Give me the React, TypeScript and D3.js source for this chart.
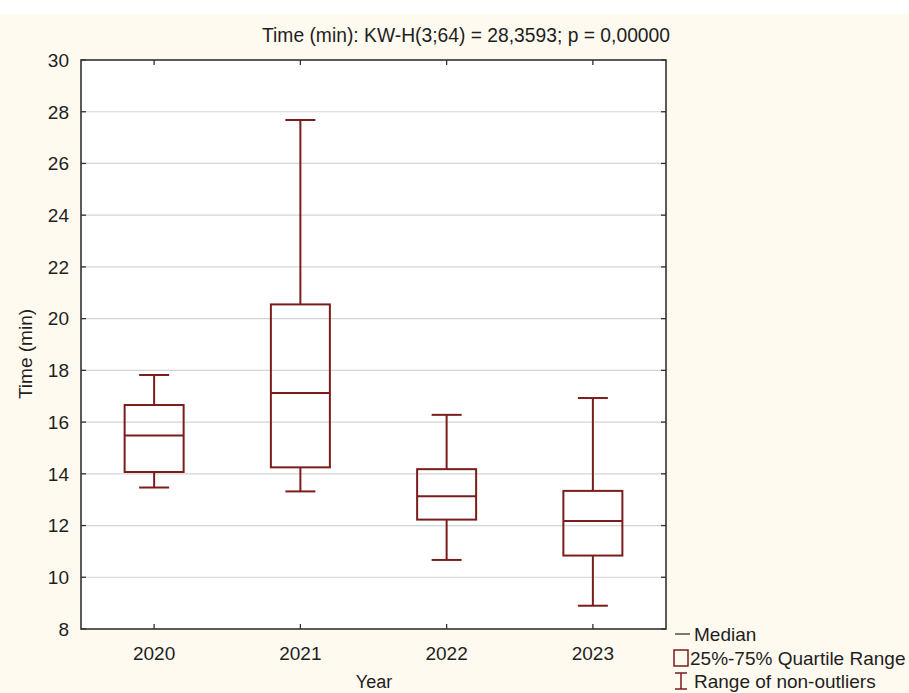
import React from "react";
import * as d3 from "d3";

const years = ["2020", "2021", "2022", "2023"];
const whiskerLow = [13.47, 13.32, 10.67, 8.9];
const q1 = [14.07, 14.25, 12.23, 10.84];
const median = [15.48, 17.12, 13.13, 12.18];
const q3 = [16.66, 20.55, 14.18, 13.34];
const whiskerHigh = [17.82, 27.68, 16.28, 16.93];
const yTicks = [8, 10, 12, 14, 16, 18, 20, 22, 24, 26, 28, 30];

const title = "Time (min):  KW-H(3;64) = 28,3593; p = 0,00000";
const legendLabels = ["Median", "25%-75% Quartile Range", "Range of non-outliers"];

const W = 909;
const H = 693;
const margin = { top: 60, right: 243, bottom: 64, left: 81 };
const boxColor = "#7a1d1d";
const font = "'Liberation Sans', Arial, sans-serif";
const narrow = "'Liberation Sans Narrow', 'Arial Narrow', 'Liberation Sans', sans-serif";

const App = () => {
  const x = d3
    .scaleBand()
    .domain(years)
    .range([margin.left, W - margin.right])
    .padding(0);
  const y = d3
    .scaleLinear()
    .domain([8, 30])
    .range([H - margin.bottom, margin.top]);

  const boxW = 59;
  const capW = 30;
  const left = margin.left;
  const right = W - margin.right;
  const top = margin.top;
  const bottom = H - margin.bottom;

  return (
    <div style={{ position: "absolute", left: 0, top: 0 }}>
      <svg width={W} height={H} style={{ display: "block" }} fontFamily={font}>
        <rect x={0} y={0} width={W} height={H} fill="#ffffff" />
        <rect x={0} y={14} width={W} height={H - 14} fill="#fefaf0" />
        <rect x={left} y={top} width={right - left} height={bottom - top} fill="#ffffff" />

        {/* grid */}
        {yTicks.slice(1, -1).map((t) => (
          <line key={"g" + t} x1={left} x2={right} y1={y(t)} y2={y(t)} stroke="#d4d4d4" strokeWidth={1.2} />
        ))}

        {/* boxes */}
        {years.map((yr, i) => {
          const cx = (x(yr) as number) + x.bandwidth() / 2;
          return (
            <g key={yr} stroke={boxColor} strokeWidth={2} fill="none">
              <line x1={cx} x2={cx} y1={y(whiskerHigh[i])} y2={y(q3[i])} />
              <line x1={cx} x2={cx} y1={y(q1[i])} y2={y(whiskerLow[i])} />
              <line x1={cx - capW / 2} x2={cx + capW / 2} y1={y(whiskerHigh[i])} y2={y(whiskerHigh[i])} />
              <line x1={cx - capW / 2} x2={cx + capW / 2} y1={y(whiskerLow[i])} y2={y(whiskerLow[i])} />
              <rect x={cx - boxW / 2} y={y(q3[i])} width={boxW} height={y(q1[i]) - y(q3[i])} />
              <line x1={cx - boxW / 2} x2={cx + boxW / 2} y1={y(median[i])} y2={y(median[i])} />
            </g>
          );
        })}

        {/* frame */}
        <rect x={left} y={top} width={right - left} height={bottom - top} fill="none" stroke="#333" strokeWidth={1.6} />

        {/* y ticks */}
        {yTicks.map((t) => (
          <g key={"y" + t}>
            <line x1={left} x2={left + 5} y1={y(t)} y2={y(t)} stroke="#333" strokeWidth={1.3} />
            <line x1={right - 5} x2={right} y1={y(t)} y2={y(t)} stroke="#333" strokeWidth={1.3} />
            <text x={69} y={y(t)} dy="0.36em" textAnchor="end" fontSize={19} fill="#1e1e1e">
              {t}
            </text>
          </g>
        ))}

        {/* x ticks */}
        {years.map((yr) => {
          const cx = (x(yr) as number) + x.bandwidth() / 2;
          return (
            <g key={"x" + yr}>
              <line x1={cx} x2={cx} y1={top} y2={top + 5} stroke="#333" strokeWidth={1.3} />
              <line x1={cx} x2={cx} y1={bottom - 5} y2={bottom} stroke="#333" strokeWidth={1.3} />
              <text x={cx} y={660} textAnchor="middle" fontSize={19} fill="#1e1e1e">
                {yr}
              </text>
            </g>
          );
        })}

        {/* titles */}
        <text x={466} y={42} textAnchor="middle" fontSize={20} fill="#1e1e1e" fontFamily={narrow} textLength={408} lengthAdjust="spacingAndGlyphs">
          {title}
        </text>
        <text x={374} y={688} textAnchor="middle" fontSize={18} fill="#1e1e1e">
          Year
        </text>
        <text transform={`translate(32,354) rotate(-90)`} textAnchor="middle" fontSize={19} fill="#1e1e1e">
          Time (min)
        </text>

        {/* legend */}
        <g fontSize={19} fill="#1e1e1e">
          <line x1={675} x2={690} y1={634} y2={634} stroke="#333" strokeWidth={1.3} />
          <text x={694} y={641}>{legendLabels[0]}</text>
          <rect x={674} y={650} width={14} height={16} fill="none" stroke={boxColor} strokeWidth={1.5} />
          <text x={690} y={665}>{legendLabels[1]}</text>
          <g stroke={boxColor} strokeWidth={1.5}>
            <line x1={681} x2={681} y1={673} y2={689} />
            <line x1={675} x2={687} y1={673} y2={673} />
            <line x1={675} x2={687} y1={689} y2={689} />
          </g>
          <text x={694} y={688}>{legendLabels[2]}</text>
        </g>
      </svg>
    </div>
  );
};

export default App;
